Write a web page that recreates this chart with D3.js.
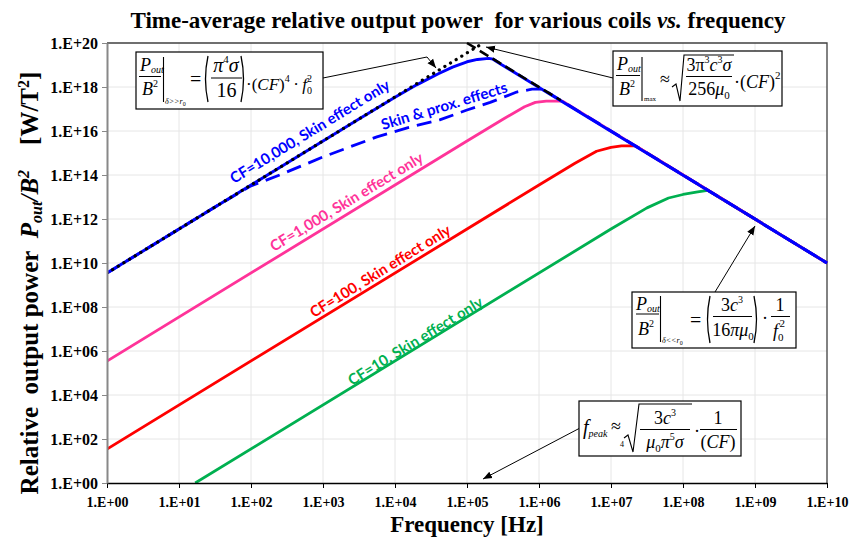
<!DOCTYPE html>
<html><head><meta charset="utf-8">
<script src="https://cdn.jsdelivr.net/npm/d3@7"></script>
<style>
body{margin:0;background:#fff;}
svg{display:block;}
</style></head><body>
<svg id="c" width="850" height="542"></svg>
<script>
// ---------------- DATA ----------------
const xTickValues = [1e0,1e1,1e2,1e3,1e4,1e5,1e6,1e7,1e8,1e9,1e10];
const xTickLabels = ["1.E+00","1.E+01","1.E+02","1.E+03","1.E+04","1.E+05","1.E+06","1.E+07","1.E+08","1.E+09","1.E+10"];
const yTickValues = [1e0,1e2,1e4,1e6,1e8,1e10,1e12,1e14,1e16,1e18,1e20];
const yTickLabels = ["1.E+00","1.E+02","1.E+04","1.E+06","1.E+08","1.E+10","1.E+12","1.E+14","1.E+16","1.E+18","1.E+20"];

// CF=10,000 skin effect only
const cf10000Freq  = [1, 3.16e3, 1e4, 2e4, 4e4, 6.3e4, 1e5, 1.4e5, 2e5, 2.3e5, 3e5, 1e6, 1e10];
const cf10000Power = [3.5e9, 3.5e16, 3.4e17, 1.26e18, 4e18, 8e18, 1.4e19, 1.8e19, 2e19, 1.85e19, 1.05e19, 9.5e17, 1e10];
// CF=10,000 skin & proximity effects
const proxFreq  = [1, 31.6, 100, 250, 1e3, 2.37e3, 5.6e3, 1.48e4, 4.17e4, 1e5, 2.1e5, 4.9e5, 8e5, 1.12e6, 1e10];
const proxPower = [3.5e9, 3.5e12, 3.2e13, 1e14, 6.6e14, 1.9e15, 5.4e15, 1.4e16, 3.2e16, 9e16, 2e17, 5.9e17, 8e17, 8e17, 1e10];
// CF=1,000
const cf1000Freq  = [1, 1e5, 3.16e5, 6.3e5, 8.9e5, 1.26e6, 2.1e6, 1e7, 1e10];
const cf1000Power = [3.5e5, 3.5e15, 3.4e16, 1.26e17, 2e17, 2.3e17, 2.3e17, 1e16, 1e10];
// CF=100
const cf100Freq  = [1, 1e6, 3.16e6, 6.3e6, 1e7, 1.4e7, 2.2e7, 1e8, 1e10];
const cf100Power = [35, 3.5e13, 3.4e14, 1.2e15, 1.8e15, 2.1e15, 2.1e15, 1e14, 1e10];
// CF=10
const cf10Freq  = [16.8, 1e7, 3.16e7, 6.3e7, 1e8, 1.6e8, 2.2e8, 1e9, 1e10];
const cf10Power = [1, 3.5e11, 3.2e12, 9e12, 1.3e13, 1.7e13, 2e13, 1e12, 1e10];
// asymptotes
const lowAsymFreq  = [1, 1.68e5];
const lowAsymPower = [3.5e9, 1e20];
const highAsymFreq  = [1e5, 2e6];
const highAsymPower = [1e20, 2.5e17];

// ---------------- CHART ----------------
const svg = d3.select("#c");
const L=107, R=827, T=43, B=483;
const x = d3.scaleLog().domain([1,1e10]).range([L,R]);
const y = d3.scaleLog().domain([1,1e20]).range([B,T]);
const serif = "'Liberation Serif','Times New Roman',serif";
const sans = "Lato,'Open Sans',sans-serif";

// grid
const grid = svg.append("g");
grid.selectAll(".vx").data(xTickValues.slice(1,-1)).join("line")
  .attr("x1",d=>x(d)).attr("x2",d=>x(d)).attr("y1",T).attr("y2",B)
  .attr("stroke","#e6e6e6").attr("stroke-width",1);
grid.selectAll(".hy").data(yTickValues.slice(1,-1)).join("line")
  .attr("y1",d=>y(d)).attr("y2",d=>y(d)).attr("x1",L).attr("x2",R)
  .attr("stroke","#e6e6e6").attr("stroke-width",1);
svg.append("path").attr("d",`M${L},${T}H${R}V${B}`).attr("fill","none").attr("stroke","#404040").attr("stroke-width",1.3);

const line = d3.line().x(d=>x(d[0])).y(d=>y(d[1]));
const zip = (a,b)=>a.map((v,i)=>[v,b[i]]);
svg.append("clipPath").attr("id","pc").append("rect").attr("x",L).attr("y",T-2).attr("width",R-L+2).attr("height",B-T+2);
const plot = svg.append("g").attr("clip-path","url(#pc)");

function drawSeries(fx,py,color,w,dash){
  const p = plot.append("path").attr("d",line(zip(fx,py))).attr("fill","none")
    .attr("stroke",color).attr("stroke-width",w).attr("stroke-linejoin","round");
  if(dash) p.attr("stroke-dasharray",dash);
  return p;
}
drawSeries(cf10Freq,cf10Power,"#00b050",2.8);
drawSeries(cf100Freq,cf100Power,"#ff0000",2.8);
drawSeries(cf1000Freq,cf1000Power,"#ff3399",2.8);
drawSeries(proxFreq,proxPower,"#0000ff",2.8,"15,8");
drawSeries(cf10000Freq,cf10000Power,"#0000ff",3);
drawSeries(highAsymFreq,highAsymPower,"#000",2.6,"10,5");
drawSeries(lowAsymFreq,lowAsymPower,"#000",3.2,"0.1,6.5").attr("stroke-linecap","round");

// series labels
function lab(txt,x0,y0,ang,len,color){
  svg.append("text").attr("transform",`translate(${x0},${y0}) rotate(${ang})`)
    .attr("font-family",sans).attr("font-weight","bold").attr("font-size",15)
    .attr("fill",color).attr("textLength",len).attr("lengthAdjust","spacingAndGlyphs").text(txt);
}
lab("CF=10,000, Skin effect only",234,184,-31.4,184,"#0000ff");
lab("Skin & prox. effects",383,130,-16.9,131,"#0000ff");
lab("CF=1,000, Skin effect only",274,252,-31.2,176,"#ff3399");
lab("CF=100, Skin effect only",314,318,-31.6,162,"#ff0000");
lab("CF=10, Skin effect only",352,386,-31.5,155,"#00b050");

// axes
const xAxis = svg.append("g").attr("transform",`translate(0,${B})`)
  .call(d3.axisBottom(x).tickValues(xTickValues).tickFormat((d,i)=>xTickLabels[i]).tickSize(5).tickSizeOuter(0));
xAxis.select(".domain").attr("stroke","#000").attr("stroke-width",1.6);
xAxis.selectAll(".tick line").attr("stroke","#000").attr("stroke-width",1);
xAxis.selectAll("text").attr("font-family",serif).attr("font-weight","bold").attr("font-size",14).attr("fill","#000").attr("dy","1.15em");

const yAxis = svg.append("g").attr("transform",`translate(${L},0)`)
  .call(d3.axisLeft(y).tickValues(yTickValues).tickFormat((d,i)=>yTickLabels[i]).tickSize(5).tickSizeOuter(0));
yAxis.select(".domain").attr("stroke","#888").attr("stroke-width",2);
yAxis.selectAll(".tick line").attr("stroke","#888").attr("stroke-width",1);
yAxis.selectAll("text").attr("font-family",serif).attr("font-weight","bold").attr("font-size",16).attr("fill","#000").attr("x",-9);

// titles
svg.append("text").attr("x",458).attr("y",28).attr("text-anchor","middle")
  .attr("font-family",serif).attr("font-weight","bold").attr("font-size",23)
  .call(t=>{t.append("tspan").text("Time-average relative output power\u00a0 for various coils ");
            t.append("tspan").attr("font-style","italic").text("vs.");
            t.append("tspan").text(" frequency");});
svg.append("text").attr("x",467).attr("y",532).attr("text-anchor","middle")
  .attr("font-family",serif).attr("font-weight","bold").attr("font-size",23).text("Frequency [Hz]");
svg.append("text").attr("transform","translate(38,283) rotate(-90)").attr("text-anchor","middle")
  .attr("font-family",serif).attr("font-weight","bold").attr("font-size",25)
  .call(t=>{t.append("tspan").text("Relative\u00a0 output power\u00a0 ");
            t.append("tspan").attr("font-style","italic").text("P");
            t.append("tspan").attr("font-style","italic").attr("font-size",16).attr("dy",4).text("out");
            t.append("tspan").attr("font-style","italic").attr("dy",-4).text("/B");
            t.append("tspan").attr("font-style","italic").attr("font-size",16).attr("dy",-9).text("2");
            t.append("tspan").attr("dy",9).text("\u00a0\u00a0\u00a0 [W/T");
            t.append("tspan").attr("font-size",16).attr("dy",-9).text("2");
            t.append("tspan").attr("dy",9).text("]");});

// ---------------- formula boxes ----------------
const defs = svg.append("defs");
defs.append("marker").attr("id","ah").attr("viewBox","0 0 10 10").attr("refX",10).attr("refY",5)
  .attr("markerWidth",9).attr("markerHeight",9).attr("markerUnits","userSpaceOnUse").attr("orient","auto")
  .append("path").attr("d","M0,1 L10,5 L0,9 Z").attr("fill","#000");

const ann = svg.append("g");
function leader(pts){
  ann.append("polyline").attr("points",pts.map(p=>p.join(",")).join(" "))
    .attr("fill","none").attr("stroke","#000").attr("stroke-width",1).attr("marker-end","url(#ah)");
}
leader([[323,78],[427,57],[436,68]]);
leader([[613,78],[486,47]]);
leader([[715,292],[755,226]]);
leader([[580,428],[483,479]]);

function box(x0,y0,w,h){
  ann.append("rect").attr("x",x0).attr("y",y0).attr("width",w).attr("height",h)
    .attr("fill","#fff").attr("stroke","#000").attr("stroke-width",1.2);
}
// parts: [text, size, italic, baselineOffset, dx]
function mt(x0,y0,parts,anchor){
  const t = ann.append("text").attr("x",x0).attr("y",y0).attr("font-family",serif)
    .attr("text-anchor",anchor||"start").attr("fill","#000");
  let cur=0;
  parts.forEach(p=>{
    const off=p[3]||0;
    const s = t.append("tspan").attr("font-size",p[1]).attr("font-style",p[2]?"italic":"normal")
      .attr("dy",off-cur).text(p[0]);
    if(p[4]) s.attr("dx",p[4]);
    cur=off;
  });
  return t;
}
function hl(x1,x2,yy){ann.append("line").attr("x1",x1).attr("x2",x2).attr("y1",yy).attr("y2",yy).attr("stroke","#000").attr("stroke-width",1);}
function vl(xx,y1,y2){ann.append("line").attr("x1",xx).attr("x2",xx).attr("y1",y1).attr("y2",y2).attr("stroke","#000").attr("stroke-width",1.1);}
function paren(x1,y1,y2,left){
  const xm = left? x1-5 : x1+5;
  ann.append("path").attr("d",`M${x1},${y1} Q${xm},${(y1+y2)/2} ${x1},${y2}`).attr("fill","none").attr("stroke","#000").attr("stroke-width",1.3);
}
function pb(x0,yP,yBar,yB,x1,x2){
  mt(x0,yP,[["P",18,true],["out",10,true,2]]);
  hl(x1,x2,yBar);
  mt(x0+2,yB,[["B",18,true],["2",10,false,-8]]);
}

// Box 1
box(136,52,187,57);
pb(140,71,76.5,95,139,161);
vl(163.5,57,102);
mt(165,104,[["δ>>r",8,true],["0",6,false,2]]);
mt(190,86,[["=",20,false]]);
paren(208,56,102,true);
mt(226,72,[["π",20,true],["4",11,false,-9],["σ",20,true]],"middle");
hl(211,242,78);
mt(226.5,97,[["16",20,false]],"middle");
paren(241,56,102,false);
mt(246,90,[["·(",17,false],["CF",17,true],[")",17,false],["4",10,false,-8],["\u2009·\u2009",17,false],["f",17,true],["0",10,false,4],["2",10,false,-8,-5]]);

// Box 2
box(613,51,169,55);
pb(617,70,75.5,95,616,640);
vl(642,57,101);
mt(644,101,[["max",7,false]]);
mt(660,85,[["≈",18,false]]);
ann.append("path").attr("d","M672,87 L676,84 L680,101 L684,55 L734,55").attr("fill","none").attr("stroke","#000").attr("stroke-width",1.1);
mt(709,71,[["3π",18,false],["3",10,false,-8],["c",18,true],["3",10,false,-8],["σ",18,true]],"middle");
hl(686,732,76.5);
mt(709,95,[["256",18,false],["μ",18,true],["0",11,false,4]],"middle");
mt(734,88,[["·(",18,false],["CF",18,true],[")",18,false],["2",11,false,-9]]);

// Box 3
box(632,292,164,56);
pb(636,310,314,335,636,659);
vl(660.5,296,342);
mt(662,343,[["δ<<r",8,true],["0",6,false,2]]);
mt(690,327,[["=",20,false]]);
paren(710,296,343,true);
mt(732,311,[["3",18,false],["c",18,true],["3",10,false,-8]],"middle");
hl(713,752,316.5);
mt(733,336,[["16",18,false],["πμ",18,true],["0",11,false,4]],"middle");
paren(754,296,343,false);
mt(762,324,[["·",18,false]]);
mt(780,311,[["1",18,false]],"middle");
hl(771,790,316.5);
mt(773,337,[["f",18,true],["0",11,false,4],["2",11,false,-10,-4]]);

// Box 4
box(579,401,162,55);
mt(583,434,[["f",20,true],["peak",10,true,3]]);
mt(611,432,[["≈",18,false]]);
mt(620,447,[["4",8,false]]);
ann.append("path").attr("d","M624,438 L628,435 L633,452 L639,404 L692,404").attr("fill","none").attr("stroke","#000").attr("stroke-width",1.1);
mt(665,424,[["3",18,false],["c",18,true],["3",10,false,-8]],"middle");
hl(640,690,429.5);
mt(665,448,[["μ",18,true],["0",11,false,4],["π",18,true,0],["5",10,false,-8],["σ",18,true,0]],"middle");
mt(694,437,[["·",18,false]]);
mt(718,424,[["1",18,false]],"middle");
hl(700,737,429.5);
mt(718,448,[["(",18,false],["CF",18,true],[")",18,false]],"middle");
</script>
</body></html>
